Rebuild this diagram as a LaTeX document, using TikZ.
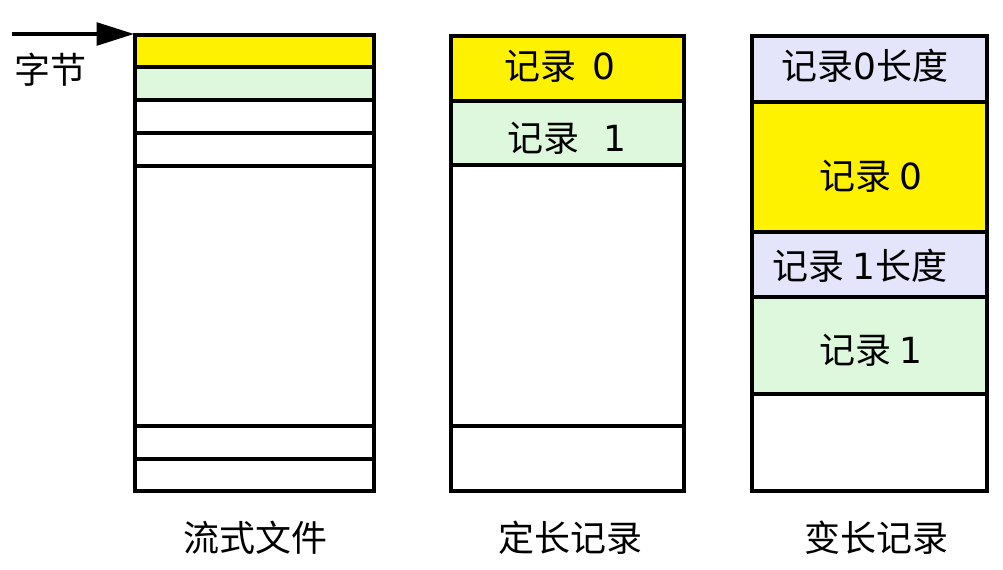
\documentclass[tikz,border=0pt]{standalone}
\usepackage{fontspec}
\setmainfont{Noto Sans CJK SC}
\newfontfamily\dig{DejaVu Sans}
\usetikzlibrary{arrows.meta}
\definecolor{cyel}{HTML}{FFF200}
\definecolor{cgrn}{HTML}{DDF8DD}
\definecolor{clav}{HTML}{E4E4FA}
\tikzset{
  cellbox/.style={draw=black, line width=2.6pt},
  lbl/.style={font=\fontsize{27}{30}\selectfont, inner sep=0pt},
}
\newcommand{\dd}[1]{{\dig #1}}
\begin{document}
\begin{tikzpicture}[x=0.75pt,y=-0.75pt]
\useasboundingbox (0,0) rectangle (1003,569);
% column 1: stream file
\foreach \ya/\yb/\f [count=\i] in {35/67/cyel,67/100/cgrn,100/133/white,133/166/white,166/426/white,426/459/white,459/491/white}{
  \draw[cellbox, fill=\f] (135,\ya) rectangle (374,\yb);
}
\coordinate (c1top) at (134,34);
% column 2: fixed length
\draw[cellbox, fill=cyel] (451,36) rectangle (684,101);
\draw[cellbox, fill=cgrn] (451,101) rectangle (684,165);
\draw[cellbox, fill=white] (451,165) rectangle (684,426);
\draw[cellbox, fill=white] (451,426) rectangle (684,491);
\node[lbl] (f0) at (560,66) {记录\ \ \dd{0}};
\node[lbl] (f1) at (567,138) {记录\ \ \ \dd{1}};
% column 3: variable length
\draw[cellbox, fill=clav] (752,36) rectangle (987,102);
\draw[cellbox, fill=cyel] (752,102) rectangle (987,232);
\draw[cellbox, fill=clav] (752,232) rectangle (987,297);
\draw[cellbox, fill=cgrn] (752,297) rectangle (987,394);
\draw[cellbox, fill=white] (752,394) rectangle (987,491);
\node[lbl] (v0l) at (865,66) {记录\dd{0}长度};
\node[lbl] (v0) at (871,176) {记录 \dd{0}};
\node[lbl] (v1l) at (860,266) {记录 \dd{1}长度};
\node[lbl] (v1) at (871,350) {记录 \dd{1}};
% arrow and byte label
\coordinate (astart) at (12,34);
\draw[line width=2.6pt, -{Triangle[length=28pt, width=17pt]}] (astart) -- (c1top);
\node[lbl] (byte) at (50,70) {字节};
% captions
\node[lbl] (cap1) at (255,538) {流式文件};
\node[lbl] (cap2) at (570,538) {定长记录};
\node[lbl] (cap3) at (876,538) {变长记录};
\end{tikzpicture}
\end{document}
